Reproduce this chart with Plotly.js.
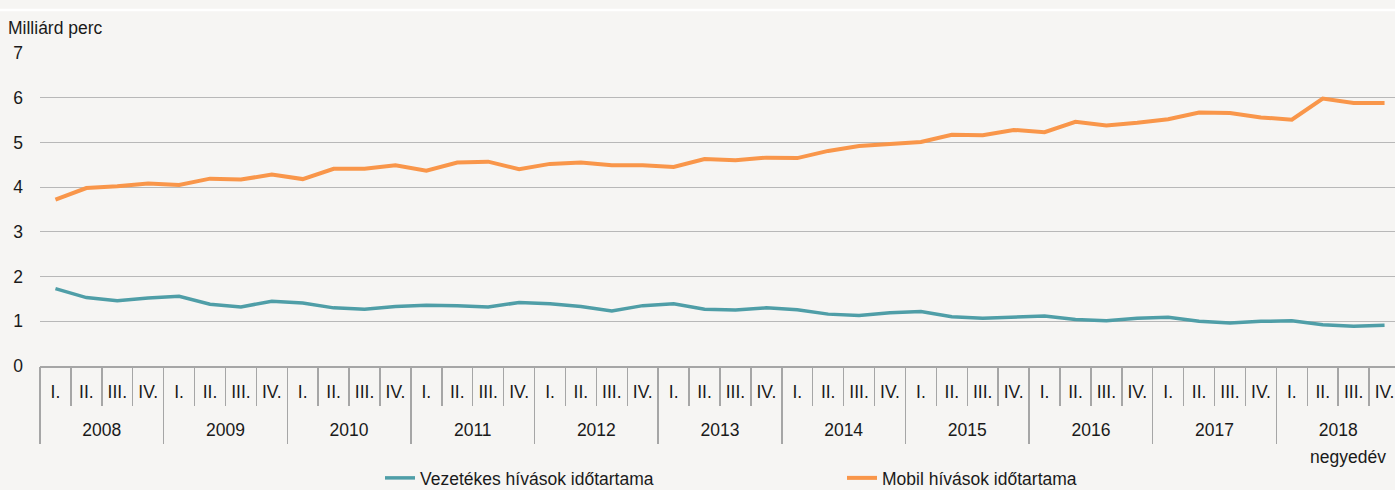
<!DOCTYPE html>
<html>
<head>
<meta charset="utf-8">
<script src="https://cdn.plot.ly/plotly-3.0.1.min.js"></script>
<style>html,body{margin:0;padding:0;overflow:hidden;background:#f6f5f3}</style>
</head>
<body>
<div id="chart" style="width:1400px;height:490px"></div>
<script>
const years = ['2008','2009','2010','2011','2012','2013','2014','2015','2016','2017','2018'];
const quarters = ['I.','II.','III.','IV.'];
const fixedLine = [1.73,1.53,1.46,1.52, 1.56,1.38,1.32,1.45, 1.41,1.30,1.27,1.33, 1.36,1.35,1.32,1.42,
  1.39,1.33,1.23,1.35, 1.39,1.27,1.25,1.30, 1.26,1.16,1.13,1.19, 1.22,1.10,1.07,1.10,
  1.12,1.04,1.01,1.07, 1.09,1.00,0.96,1.00, 1.01,0.92,0.89,0.91];
const mobile = [3.72,3.98,4.02,4.08, 4.05,4.19,4.17,4.28, 4.18,4.41,4.41,4.49, 4.37,4.55,4.57,4.40,
  4.52,4.55,4.49,4.49, 4.45,4.63,4.60,4.66, 4.65,4.81,4.92,4.97, 5.01,5.17,5.16,5.28,
  5.23,5.46,5.38,5.44, 5.52,5.67,5.66,5.56, 5.51,5.98,5.88,5.88];
const seriesNames = ['Vezetékes hívások időtartama','Mobil hívások időtartama'];
const yTitle = 'Milliárd perc';
const xTitle = 'negyedév';

const outer = [], inner = [];
years.forEach(y => quarters.forEach(q => { outer.push(y); inner.push(q); }));
const nQ = quarters.length;
const xRange = [-0.5, inner.length - 0.5];
const quarterPos = inner.map((_, i) => i);
const yearPos = years.map((_, i) => i*nQ + (nQ-1)/2);

const FONT = '"Liberation Sans", Arial, sans-serif';
const FS = 17.5;
const GREY = '#a6a6a6';

const traces = [
  {x:[outer, inner], y:fixedLine, name:seriesNames[0], type:'scatter', mode:'lines',
   line:{color:'#4f9ea7', width:3.5}},
  {x:[outer, inner], y:mobile, name:seriesNames[1], type:'scatter', mode:'lines',
   line:{color:'#f9964a', width:4}},
  // helper traces (no visible marks) so that the label axes are drawn
  {x:quarterPos, y:quarterPos.map(() => null), xaxis:'x2', type:'scatter', mode:'markers',
   marker:{opacity:0}, showlegend:false, hoverinfo:'skip'},
  {x:yearPos, y:yearPos.map(() => null), xaxis:'x3', type:'scatter', mode:'markers',
   marker:{opacity:0}, showlegend:false, hoverinfo:'skip'}
];

const layout = {
  width:1400, height:490,
  margin:{l:40, r:0, t:53, b:124, autoexpand:false},
  paper_bgcolor:'#f6f5f3', plot_bgcolor:'#f6f5f3',
  font:{family:FONT, size:FS, color:'#1a1a1a'},
  title:{text:yTitle, x:8/1400, xanchor:'left', xref:'container', y:1-28/490, yanchor:'middle', yref:'container',
         font:{family:FONT, size:FS, color:'#1a1a1a'}},
  showlegend:true,
  legend:{orientation:'h', xref:'container', x:380/1400, xanchor:'left', yref:'container', y:1-478/490, yanchor:'middle',
          entrywidth:417, entrywidthmode:'pixels', bgcolor:'rgba(0,0,0,0)', font:{family:FONT, size:FS}},
  xaxis:{type:'multicategory', range:xRange, showline:true, linecolor:GREY, linewidth:2,
         ticks:'outside', ticklen:38, tickwidth:1.5, tickcolor:GREY, tickson:'boundaries',
         showticklabels:false, showdividers:false, showgrid:false, zeroline:false, fixedrange:true},
  xaxis2:{type:'linear', overlaying:'x', anchor:'y', side:'bottom', range:xRange,
          tickmode:'array', tickvals:quarterPos, ticktext:inner, tickangle:0,
          ticks:'', ticklabelstandoff:13, showgrid:false, zeroline:false, showline:false,
          minor:{tick0:-0.5, dtick:nQ, ticks:'outside', ticklen:77, tickwidth:1.5, tickcolor:GREY, showgrid:false},
          fixedrange:true},
  xaxis3:{type:'linear', overlaying:'x', anchor:'y', side:'bottom', range:xRange,
          tickmode:'array', tickvals:yearPos, ticktext:years, tickangle:0,
          ticks:'', ticklabelstandoff:51, showgrid:false, zeroline:false, showline:false, fixedrange:true},
  yaxis:{range:[0,7], dtick:1, tick0:0, showgrid:true, gridcolor:'#b8b8b8', gridwidth:1,
         zeroline:false, showline:false, ticks:'', ticklabelstandoff:16, fixedrange:true},
  annotations:[{text:xTitle, xref:'paper', yref:'paper', x:(1388-40)/1360, xanchor:'right',
                y:(366-457)/313, yanchor:'middle', showarrow:false, font:{family:FONT, size:FS, color:'#1a1a1a'}}],
  shapes:[{type:'line', xref:'paper', yref:'paper', x0:-40/1360, x1:1, y0:(366-10)/313, y1:(366-10)/313,
           line:{color:'#ffffff', width:2.5}}]
};

Plotly.newPlot('chart', traces, layout, {displayModeBar:false, staticPlot:true});
</script>
</body>
</html>
